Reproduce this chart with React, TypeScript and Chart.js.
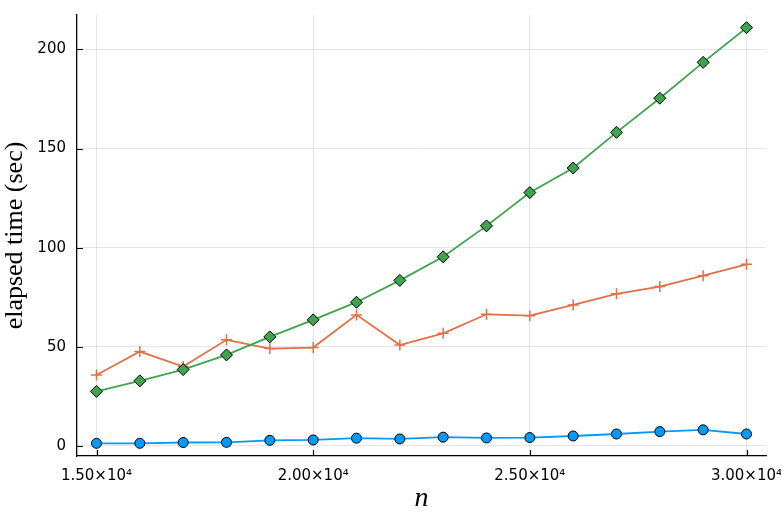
import React, { useEffect, useRef } from "react";
import { Chart, registerables } from "chart.js";

Chart.register(...registerables);

const nValues = [15000, 16000, 17000, 18000, 19000, 20000, 21000, 22000, 23000, 24000, 25000, 26000, 27000, 28000, 29000, 30000];
const seriesBlue = [1.3, 1.3, 1.7, 1.8, 2.8, 3.0, 3.9, 3.5, 4.4, 4.0, 4.2, 5.0, 6.0, 7.2, 8.1, 6.0];
const seriesOrange = [35.8, 47.6, 40.0, 53.5, 49.1, 49.6, 66.1, 50.9, 56.8, 66.4, 65.7, 71.1, 76.7, 80.4, 85.9, 91.6];
const seriesGreen = [27.5, 32.8, 38.5, 45.9, 55.0, 63.6, 72.5, 83.5, 95.4, 111.0, 127.8, 140.2, 158.2, 175.4, 193.5, 211.0];
const xTicks = [15000, 20000, 25000, 30000];
const xTickLabels = ["1.50×10⁴", "2.00×10⁴", "2.50×10⁴", "3.00×10⁴"];
const yTicks = [0, 50, 100, 150, 200];
const xRange = [14550, 30450];
const yRange = [-5.1, 217.4];

const innerTicks = {
  id: "innerTicks",
  beforeDatasetsDraw(chart: any) {
    const { ctx, chartArea, scales } = chart;
    ctx.save();
    ctx.strokeStyle = "#000";
    ctx.lineWidth = 1.2;
    ctx.beginPath();
    for (const v of xTicks) {
      const px = Math.round(scales.x.getPixelForValue(v)) + 0.5;
      ctx.moveTo(px, chartArea.bottom);
      ctx.lineTo(px, chartArea.bottom - 6);
    }
    for (const v of yTicks) {
      const py = Math.round(scales.y.getPixelForValue(v)) + 0.5;
      ctx.moveTo(chartArea.left, py);
      ctx.lineTo(chartArea.left + 6, py);
    }
    ctx.stroke();
    ctx.restore();
  },
};

export default function App() {
  const ref = useRef<HTMLCanvasElement>(null);
  useEffect(() => {
    const mk = (data: number[]) => data.map((y, i) => ({ x: nValues[i], y }));
    const tickFont = { family: "'DejaVu Sans', sans-serif", size: 15 };
    const chart = new Chart(ref.current!, {
      type: "line",
      data: {
        datasets: [
          {
            data: mk(seriesBlue),
            borderColor: "#009AFA",
            backgroundColor: "#009AFA",
            pointBackgroundColor: "#009AFA",
            pointBorderColor: "#000",
            pointBorderWidth: 1,
            pointRadius: 5,
            pointStyle: "circle",
            borderWidth: 1.8,
            order: 3,
          },
          {
            data: mk(seriesOrange),
            borderColor: "#E36F47",
            backgroundColor: "#E36F47",
            pointBackgroundColor: "#E36F47",
            pointBorderColor: "#E36F47",
            pointBorderWidth: 1.5,
            pointRadius: 5.5,
            pointStyle: "cross",
            borderWidth: 1.8,
            order: 2,
          },
          {
            data: mk(seriesGreen),
            borderColor: "#3EA44E",
            backgroundColor: "#3EA44E",
            pointBackgroundColor: "#3EA44E",
            pointBorderColor: "#000",
            pointBorderWidth: 1,
            pointRadius: 6,
            pointStyle: "rectRot",
            borderWidth: 1.8,
            order: 1,
          },
        ],
      },
      options: {
        animation: false,
        responsive: false,
        maintainAspectRatio: false,
        layout: { padding: 0 },
        plugins: { legend: { display: false }, tooltip: { enabled: false } },
        elements: { line: { tension: 0 } },
        scales: {
          x: {
            type: "linear",
            min: xRange[0],
            max: xRange[1],
            afterBuildTicks: (s: any) => {
              s.ticks = xTicks.map((v) => ({ value: v }));
            },
            afterFit: (s: any) => {
              s.height = 65;
              s.paddingLeft = 0;
              s.paddingRight = 15;
            },
            ticks: {
              font: tickFont,
              color: "#000",
              padding: 11,
              maxRotation: 0,
              autoSkip: false,
              callback: (v: any) => {
                const i = xTicks.indexOf(Number(v));
                return i >= 0 ? xTickLabels[i] : "";
              },
            },
            grid: { color: "rgba(0,0,0,0.1)", lineWidth: 1, drawTicks: false },
            border: { display: true, color: "#000", width: 1.3 },
            title: {
              display: true,
              text: "n",
              color: "#000",
              font: { family: "'Liberation Serif', serif", size: 28, style: "italic" },
              padding: { top: 0, bottom: 6 },
            },
          },
          y: {
            type: "linear",
            min: yRange[0],
            max: yRange[1],
            afterBuildTicks: (s: any) => {
              s.ticks = yTicks.map((v) => ({ value: v }));
            },
            afterFit: (s: any) => {
              s.width = 77;
              s.paddingTop = 15;
              s.paddingBottom = 0;
            },
            ticks: {
              font: tickFont,
              color: "#000",
              padding: 11,
              callback: (v: any) => String(v),
            },
            grid: { color: "rgba(0,0,0,0.1)", lineWidth: 1, drawTicks: false },
            border: { display: true, color: "#000", width: 1.3 },
            title: {
              display: true,
              text: "elapsed time (sec)",
              color: "#000",
              font: { family: "'Liberation Serif', serif", size: 26 },
              padding: { top: 0, bottom: 0 },
            },
          },
        },
      },
      plugins: [innerTicks],
    });
    return () => chart.destroy();
  }, []);
  return (
    <div style={{ position: "absolute", left: 0, top: 0, width: 781, height: 521, background: "#fff" }}>
      <canvas ref={ref} width={781} height={521} style={{ display: "block" }} />
    </div>
  );
}
